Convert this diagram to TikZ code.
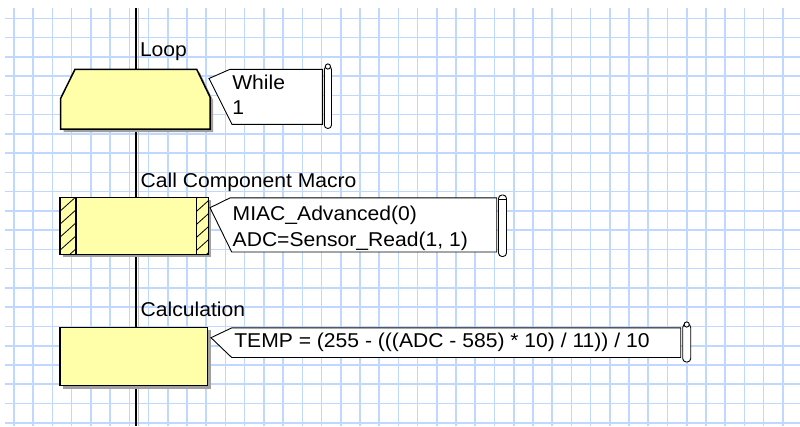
\documentclass[tikz,border=0pt]{standalone}
\usepackage{fontspec}
\setmainfont{Liberation Sans}[FakeStretch=1.055]
\definecolor{gridc}{RGB}{192,215,255}
\definecolor{boxy}{RGB}{255,255,170}
\definecolor{shad}{RGB}{160,160,160}
\begin{document}
\begin{tikzpicture}[x=1pt,y=-1pt,
  gridline/.style={draw=gridc,line width=1.6pt},
  flow/.style={draw=black,line width=2pt},
  flowshadow/.style={draw=shad!70,line width=1.5pt},
  boxshape/.style={draw=black,fill=boxy,line width=1.5pt},
  shadowshape/.style={fill=shad},
  comment/.style={draw=black,fill=white,line width=0.9pt},
  capshape/.style={draw=black,fill=white,line width=0.9pt},
  hatch/.style={draw=black,line width=0.8pt},
  txt/.style={anchor=base west,inner sep=0pt,outer sep=0pt,font=\fontsize{20}{25}\selectfont}
]
\useasboundingbox (0,0) rectangle (800,426);
\fill[white] (0,0) rectangle (800,426);
% grid
\foreach \i in {0,...,40} \draw[gridline] ({14+19.22*\i},8) -- ({14+19.22*\i},426);
\foreach \j in {0,...,21} \draw[gridline] (5,{18.3+19.26*\j}) -- (800,{18.3+19.26*\j});
% flow line
\coordinate (top) at (136,8);
\coordinate (bot) at (136,426);
\coordinate (topS) at (138.5,8);
\coordinate (botS) at (138.5,426);
\draw[flowshadow] (topS) -- (botS);
\draw[flow] (top) -- (bot);

% ---- Loop ----
\node[txt] (looplbl) at (140,56.7) {Loop};
\fill[shadowshape] (78,72.3) -- (199.7,72.3) -- (213,100) -- (213,132) -- (63.7,132) -- (63.7,101.3) -- cycle;
\draw[boxshape] (75,69.3) -- (196.7,69.3) -- (210,97) -- (210,129) -- (60.7,129) -- (60.7,98.3) -- cycle;
\draw[comment] (209,78.5) -- (230,69.3) -- (322.3,69.3) -- (322.3,124.3) -- (232,124.3) -- cycle;
\draw[capshape,rounded corners=3.5] (324.3,66) rectangle (331.5,128.5);
\draw[capshape] (327.9,66.5) circle (2.6);
\node[txt] (while1) at (232.3,89.3) {While};
\node[txt] (while2) at (232.3,114.3) {1};

% ---- Call Component Macro ----
\node[txt] (calllbl) at (140.7,187.3) {Call Component Macro};
\fill[shadowshape] (63,200.3) rectangle (211.3,257.3);
\draw[boxshape] (60,197.3) rectangle (208.3,254.3);
\begin{scope}
  \clip (60,197.3) rectangle (76,254.3);
  \foreach \k in {0,...,6} \draw[hatch] (58,{200+13*\k}) -- (78,{182+13*\k});
\end{scope}
\begin{scope}
  \clip (196.7,197.3) rectangle (208.3,254.3);
  \foreach \k in {0,...,6} \draw[hatch] (194.7,{200+13*\k}) -- (214.7,{182+13*\k});
\end{scope}
\draw[boxshape,fill=none] (60,197.3) rectangle (208.3,254.3);
\draw[black,line width=1.2pt] (76,197.3) -- (76,254.3);
\draw[black,line width=1.2pt] (196.7,197.3) -- (196.7,254.3);
\draw[comment] (210,207.7) -- (230,197.9) -- (496.7,197.9) -- (496.7,252) -- (231.7,252) -- cycle;
\draw[capshape,rounded corners=3.5] (498.5,195) rectangle (506.5,256.5);
\draw[capshape] (498.5,199) -- (506.5,199);
\node[txt] (call1) at (232.7,220) {MIAC\_Advanced(0)};
\node[txt] (call2) at (232.7,246) {ADC=Sensor\_Read(1, 1)};

% ---- Calculation ----
\node[txt] (calclbl) at (140.7,316) {Calculation};
\fill[shadowshape] (63,330.3) rectangle (210.7,388.7);
\draw[boxshape] (60,327.3) rectangle (207.7,385.7);
\draw[comment] (211,337.7) -- (231.7,327.9) -- (680.7,327.9) -- (680.7,357.5) -- (231.7,357.5) -- cycle;
\draw[capshape,rounded corners=3.5] (682.7,324) rectangle (690.7,362);
\draw[capshape] (686.7,324.5) circle (2.6);
\node[txt] (calctxt) at (234.3,347.3) {TEMP = (255 - (((ADC - 585) * 10) / 11)) / 10};
\end{tikzpicture}
\end{document}
